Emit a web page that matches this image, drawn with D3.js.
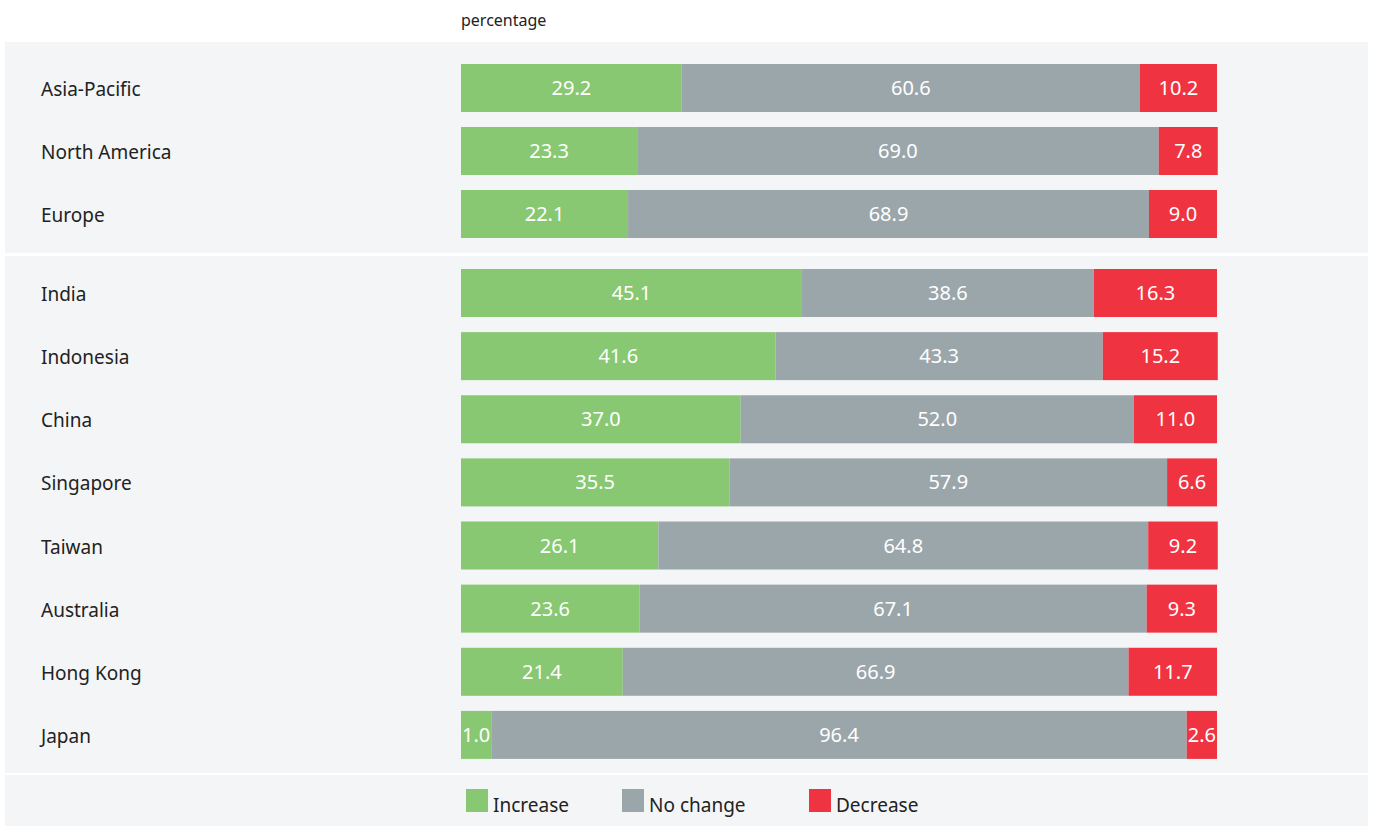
<!DOCTYPE html>
<html><head><meta charset="utf-8">
<script src="https://cdn.jsdelivr.net/npm/d3@7"></script>
<style>
body{margin:0;background:#fff;}
svg{display:block;font-family:"Noto Sans",sans-serif;}
</style></head>
<body><svg id="c" width="1374" height="826"></svg>
<script>
const regions = ["Asia-Pacific","North America","Europe"];
const countries = ["India","Indonesia","China","Singapore","Taiwan","Australia","Hong Kong","Japan"];
const categories = regions.concat(countries);
const increase = [29.2,23.3,22.1,45.1,41.6,37.0,35.5,26.1,23.6,21.4,1.0];
const noChange = [60.6,69.0,68.9,38.6,43.3,52.0,57.9,64.8,67.1,66.9,96.4];
const decrease = [10.2,7.8,9.0,16.3,15.2,11.0,6.6,9.2,9.3,11.7,2.6];
const seriesNames = ["Increase","No change","Decrease"];
const colors = ["#88c872","#9ba6ab","#ef3340"];
const unitLabel = "percentage";

const svg = d3.select("#c");
const x = d3.scaleLinear().domain([0,100]).range([461,1217]);

// panels
const panels = [[5,42,1363,211],[5,256,1363,517],[5,775,1363,51]];
svg.selectAll("rect.panel").data(panels).join("rect").attr("class","panel")
  .attr("x",d=>d[0]).attr("y",d=>d[1]).attr("width",d=>d[2]).attr("height",d=>d[3]).attr("fill","#f4f5f7");

svg.append("text").attr("x",461).attr("y",26).attr("font-size",16).attr("fill","#222").text(unitLabel);

const y1 = d3.scaleBand().domain(regions).range([64,238]).paddingInner(15/63).paddingOuter(0);
const y2 = d3.scaleBand().domain(countries).range([269,759]).paddingInner(15/63).paddingOuter(0);
const yPos = c => regions.includes(c) ? y1(c) : y2(c);
const bh = 48;

const fmt = d3.format(".1f");
const meas = svg.append("text").attr("font-size",20).attr("visibility","hidden");
function tw(s){ meas.text(s); return meas.node().getComputedTextLength(); }

categories.forEach((c,i)=>{
  const vals = [increase[i],noChange[i],decrease[i]];
  let w = vals.map(v=>x(v)-x(0));
  let excess = 0;
  w = w.map((ww,j)=>{ const m = tw(fmt(vals[j]))+2; if(ww<m){excess+=m-ww; return m;} return ww; });
  const big = w.indexOf(d3.max(w)); w[big]-=excess;
  let x0 = x(0);
  const yy = yPos(c);
  const g = svg.append("g");
  w.forEach((ww,j)=>{
    g.append("rect").attr("x",x0).attr("y",yy).attr("width",ww).attr("height",bh).attr("fill",colors[j]);
    g.append("text").attr("x",x0+ww/2).attr("y",yy+bh/2+7).attr("text-anchor","middle")
      .attr("font-size",20).attr("fill","#fff").text(fmt(vals[j]));
    x0+=ww;
  });
  svg.append("text").attr("x",41).attr("y",yy+bh/2+8).attr("font-size",19).attr("fill","#222").text(c);
});

const lx = [466,622,809];
seriesNames.forEach((s,j)=>{
  svg.append("rect").attr("x",lx[j]).attr("y",789).attr("width",22).attr("height",23).attr("fill",colors[j]);
  svg.append("text").attr("x",lx[j]+27).attr("y",812).attr("font-size",19).attr("fill","#222").text(s);
});
meas.remove();
</script></body></html>
